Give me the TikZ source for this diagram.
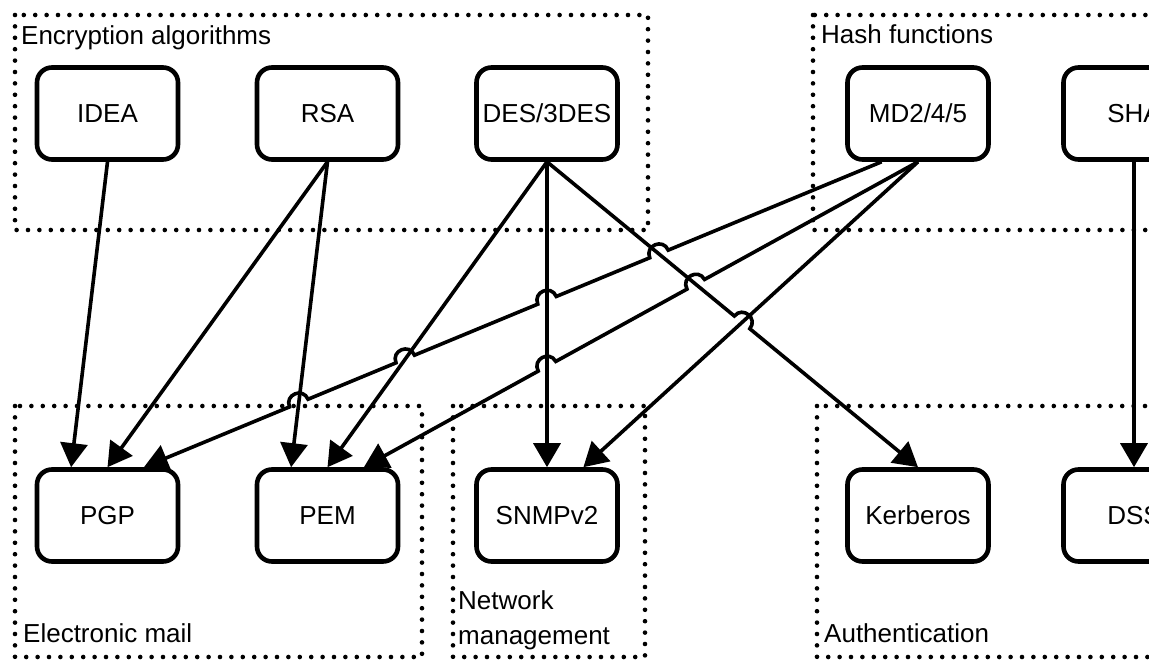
\documentclass[tikz,border=0pt]{standalone}
\usepackage{fontspec}
\setmainfont{Liberation Sans}
\usetikzlibrary{calc,arrows.meta}
\begin{document}
\begin{tikzpicture}[x=1pt,y=1pt]
  \tikzset{every node/.style={font=\fontsize{26}{35}\selectfont}}
  \tikzset{algo/.style={draw,line width=4.6pt,rounded corners=15pt,minimum width=141pt,minimum height=92pt,inner sep=0pt},
           group/.style={line width=4.6pt,line cap=round,dash pattern=on 0pt off 11.4pt},
           grouplabel/.style={anchor=base west,inner sep=0pt},
           link/.style={line width=3.6pt,-{Triangle[length=24pt,width=27pt]}},
           hopr/.style={bend right=90,looseness=1.7},
           hopl/.style={bend left=90,looseness=1.7}}
  \clip (0,0) rectangle (1149,662);
  % groups
  \draw[group] (15,647) rectangle (648,432);
  \draw[group] (813,647) rectangle (1300,432);
  \draw[group] (15,256) rectangle (422,5);
  \draw[group] (453,256) rectangle (645,5);
  \draw[group] (817,256) rectangle (1300,5);
  \node[grouplabel] (enclbl) at (21,617) {Encryption algorithms};
  \node[grouplabel] (hashlbl) at (821,618) {Hash functions};
  \node[grouplabel] (maillbl) at (23,20) {Electronic mail};
  \node[grouplabel,anchor=north west,align=left] (netlbl) at (458,72) {Network\\management};
  \node[grouplabel] (authlbl) at (824,20) {Authentication};
  % top row (algorithms)
  \node[algo] (idea) at (107.5,548.5) {IDEA};
  \node[algo] (rsa) at (327.5,548.5) {RSA};
  \node[algo] (des) at (547,548.5) {DES/3DES};
  \node[algo] (md) at (918,548.5) {MD2/4/5};
  \node[algo] (sha) at (1134,548.5) {SHA};
  % bottom row (applications)
  \node[algo] (pgp) at (107.5,146.5) {PGP};
  \node[algo] (pem) at (327.5,146.5) {PEM};
  \node[algo] (snmp) at (547,146.5) {SNMPv2};
  \node[algo] (krb) at (918,146.5) {Kerberos};
  \node[algo] (dss) at (1134,146.5) {DSS};
  % side ports
  \coordinate (mdl) at ($(md.south west)!0.25!(md.south east)$);
  \coordinate (pgpl) at ($(pgp.north west)!0.25!(pgp.north east)$);
  \coordinate (pgpr) at ($(pgp.north west)!0.75!(pgp.north east)$);
  \coordinate (peml) at ($(pem.north west)!0.25!(pem.north east)$);
  \coordinate (pemr) at ($(pem.north west)!0.75!(pem.north east)$);
  \coordinate (snmpr) at ($(snmp.north west)!0.75!(snmp.north east)$);
  % crossings (line hops)
  \coordinate (c1) at (intersection of mdl--pgpr and des.south--krb.north);
  \coordinate (c2) at (intersection of mdl--pgpr and des.south--snmp.north);
  \coordinate (c3) at (intersection of mdl--pgpr and des.south--pem.north);
  \coordinate (c4) at (intersection of mdl--pgpr and rsa.south--peml);
  \coordinate (c5) at (intersection of md.south--pemr and des.south--krb.north);
  \coordinate (c6) at (intersection of md.south--pemr and des.south--snmp.north);
  \coordinate (c7) at (intersection of des.south--krb.north and md.south--snmpr);
  % links
  \draw[link] (idea.south) -- (pgpl);
  \draw[link] (rsa.south) -- (pgp.north);
  \draw[link] (rsa.south) -- (peml);
  \draw[link] (des.south) -- (pem.north);
  \draw[link] (des.south) -- (snmp.north);
  \draw[link] (md.south) -- (snmpr);
  \draw[link] (sha.south) -- (dss.north);
  \draw[link] (des.south) -- ($(c7)!10pt!(des.south)$) to[hopl] ($(c7)!10pt!(krb.north)$) -- (krb.north);
  \draw[link] (md.south) -- ($(c5)!10pt!(md.south)$) to[hopr] ($(c5)!10pt!(pemr)$)
    -- ($(c6)!10pt!(md.south)$) to[hopr] ($(c6)!10pt!(pemr)$) -- (pemr);
  \draw[link] (mdl) -- ($(c1)!10pt!(mdl)$) to[hopr] ($(c1)!10pt!(pgpr)$)
    -- ($(c2)!10pt!(mdl)$) to[hopr] ($(c2)!10pt!(pgpr)$)
    -- ($(c3)!10pt!(mdl)$) to[hopr] ($(c3)!10pt!(pgpr)$)
    -- ($(c4)!10pt!(mdl)$) to[hopr] ($(c4)!10pt!(pgpr)$) -- (pgpr);
\end{tikzpicture}
\end{document}
